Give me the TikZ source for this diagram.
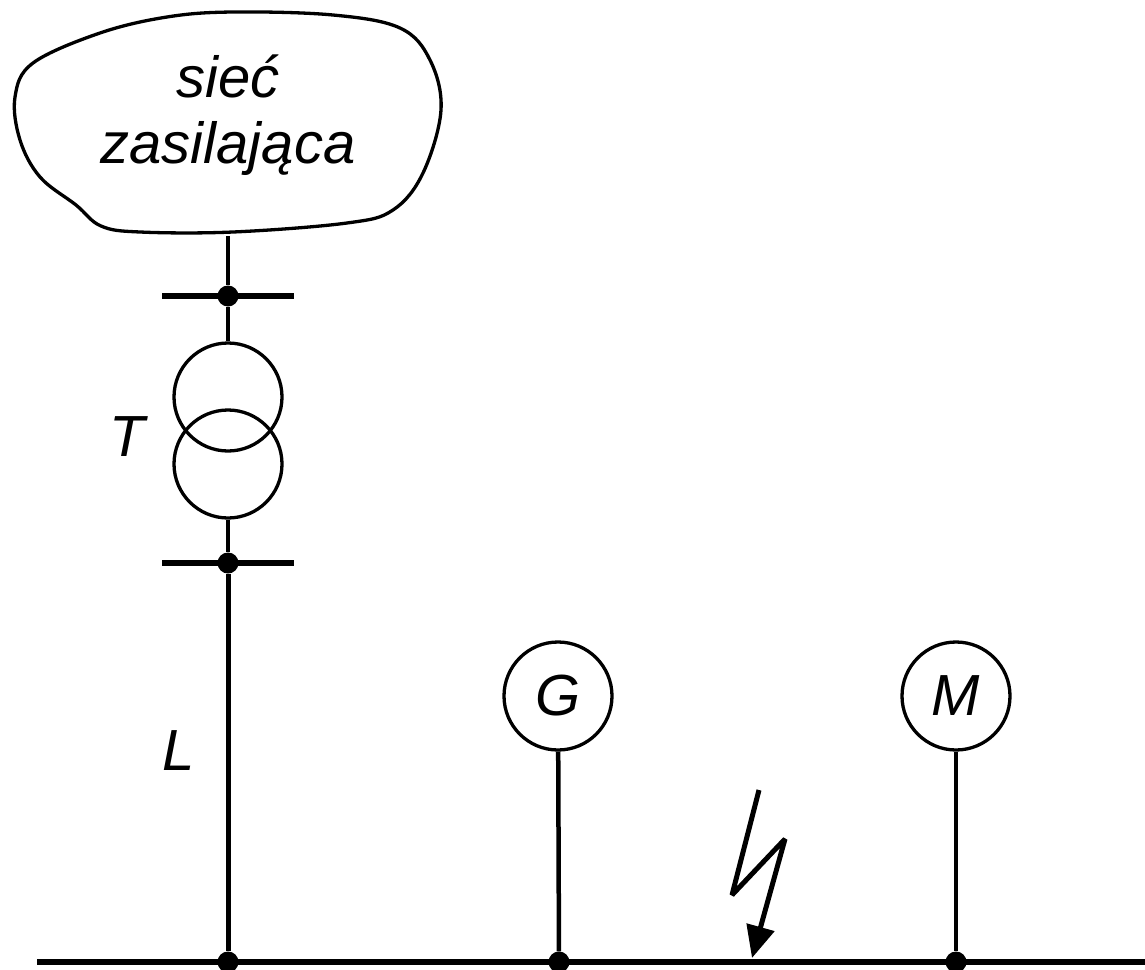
\documentclass[tikz,border=0pt]{standalone}
\usepackage{fontspec}
\setmainfont{Liberation Sans}
\usetikzlibrary{arrows.meta}
\begin{document}
\begin{tikzpicture}[x=1pt, y=-1pt, font=\itshape\fontsize{58}{66}\selectfont]
    % Define styles
    \tikzset{
        machine/.style={circle, draw, line width=3.3pt, minimum size=108pt, inner sep=0pt},
        thinline/.style={line width=4.5pt},
        busbar/.style={line width=6.5pt},
        junction/.style={circle, fill=black, minimum size=21pt, inner sep=0pt},
        label/.style={inner sep=0pt},
    }
    \useasboundingbox (0,0) rectangle (1145,969);

    % Supply network
    \draw[line width=3.3pt] plot[smooth cycle, tension=0.6] coordinates {
        (233,12) (333,15) (400,28) (430,60) (441,110) (423,173) (393,210) (347,223)
        (233,232) (140,232) (101,226) (76,205) (40,177) (20,140) (15,97)
        (33,63) (100,33) (167,17)};
    \node[label, align=center] (network) at (228,115) {sieć\\zasilająca};
    \coordinate (feed) at (228,236);

    % Transformer
    \coordinate (hvleft) at (162,296);
    \coordinate (hvright) at (294,296);
    \coordinate (lvleft) at (162,563);
    \coordinate (lvright) at (294,563);
    \node[junction] (hv) at (228,296) {};
    \node[junction] (lv) at (228,563) {};
    \node[machine] (trafo1) at (228,397) {};
    \node[machine] (trafo2) at (228,464) {};
    \node[label] (tlabel) at (127,437) {T};

    \draw[busbar] (hvleft) -- (hvright);
    \draw[busbar] (lvleft) -- (lvright);
    \draw[thinline] (feed) -- (hv);
    \draw[thinline] (hv) -- (trafo1);
    \draw[thinline] (trafo2) -- (lv);

    % Main bus
    \coordinate (busleft) at (37,962);
    \coordinate (busright) at (1145,962);
    \node[junction] (tap1) at (228,962) {};
    \node[junction] (tap2) at (559,962) {};
    \node[junction] (tap3) at (956,962) {};
    \draw[busbar] (busleft) -- (busright);

    % Line, generator, motor
    \node[label] (llabel) at (179,751) {L};
    \node[machine] (gen) at (558,696) {G};
    \node[machine] (mot) at (956,696) {M};
    \draw[line width=5pt] (lv) -- (tap1);
    \draw[thinline] (gen) -- (tap2);
    \draw[thinline] (mot) -- (tap3);

    % Fault
    \draw[line width=5pt, line join=bevel, -{Triangle[length=32pt, width=28pt]}]
        (759,790) -- (732,895) -- (785,839) -- (752,958);
\end{tikzpicture}
\end{document}
